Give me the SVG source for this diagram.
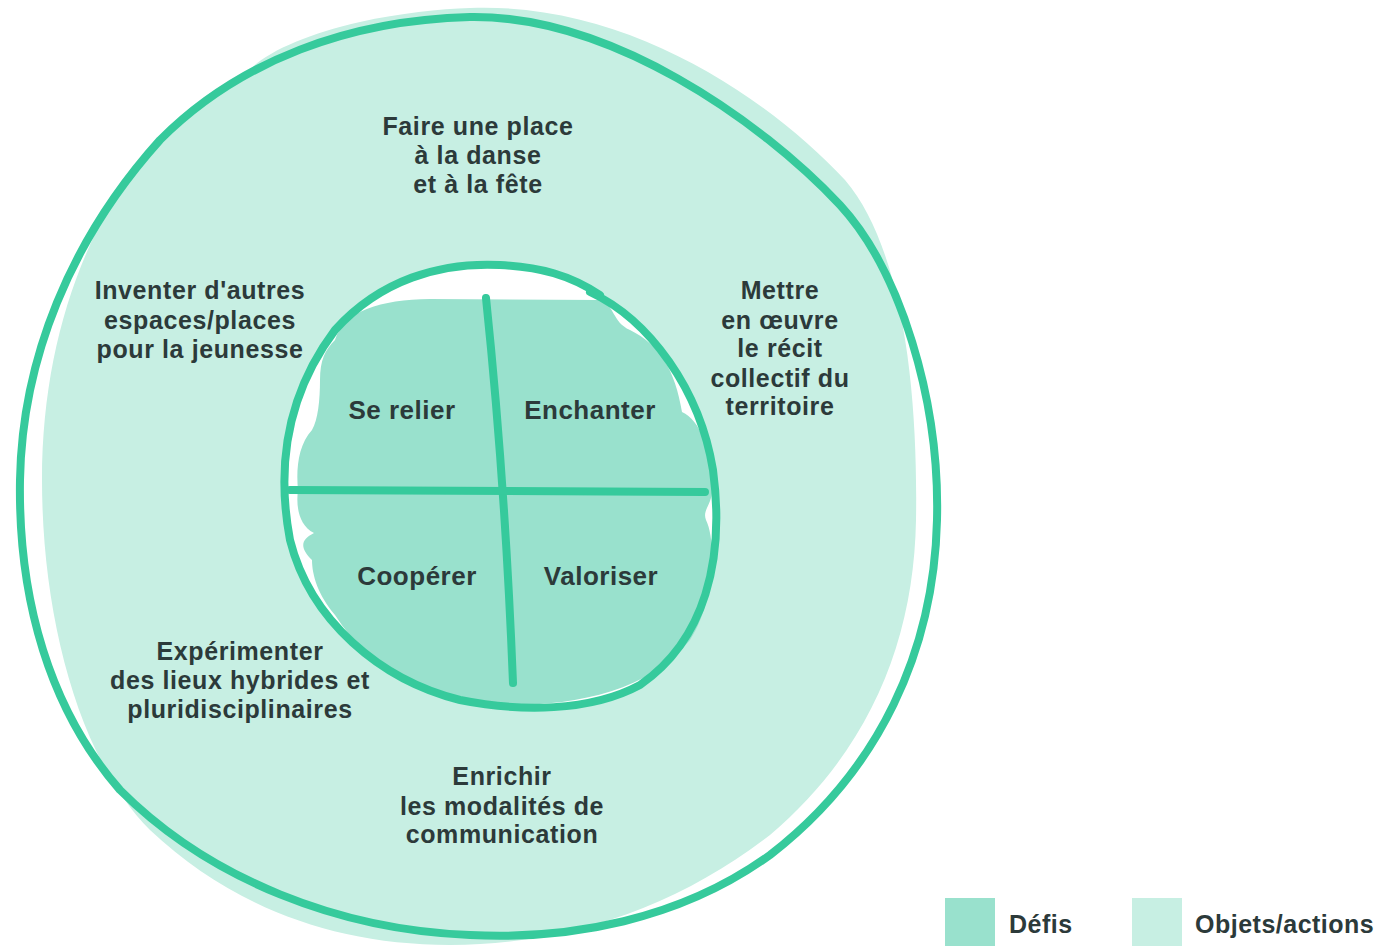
<svg xmlns="http://www.w3.org/2000/svg" width="1375" height="946" viewBox="0 0 1375 946">
<style>
.ln{fill:none;stroke:#36ca9c;stroke-width:8;stroke-linecap:round;stroke-linejoin:round}
.lbl{font-family:"Liberation Sans",Arial,sans-serif;font-weight:700;font-size:25px;letter-spacing:0.6px;fill:#2c3a3a;text-anchor:middle}
.in{font-size:26px;letter-spacing:0.5px}
.leg{font-family:"Liberation Sans",Arial,sans-serif;font-weight:700;font-size:25px;letter-spacing:0.5px;fill:#2c3a3a}
.light{fill:#c7efe3}
.dark{fill:#99e1cd}
</style>
<rect width="1375" height="946" fill="#ffffff"/>
<g id="outer-ring">
<path class="light" d="M 470,8 C 625,2 765,95 845,180 C 905,250 918,400 916,520 C 914,640 870,750 770,835 C 680,905 570,945 450,945 C 330,945 230,905 150,830 C 80,760 42,620 42,480 C 42,350 80,240 140,160 C 180,110 215,85 245,78 C 250,60 300,35 360,22 C 400,13 440,9 470,8 Z"/>
<path class="ln" d="M 470,17 C 610,15 760,120 840,205 C 900,270 940,400 937,520 C 934,650 880,770 770,855 C 680,920 570,940 470,935 C 340,930 210,880 120,790 C 50,710 18,600 20,480 C 22,360 70,240 160,140 C 240,60 350,20 470,17 Z"/>
</g>
<g id="inner-circle">
<path fill="#ffffff" d="M 590,292 C 650,320 700,390 713,470 C 725,560 705,640 640,685 C 590,712 520,712 460,700 C 380,680 310,620 290,540 C 275,460 290,390 335,330 C 380,280 440,262 500,265 C 540,267 570,275 600,295 Z"/>
<path class="dark" d="M 335,340 C 345,310 380,300 430,299 L 600,300 C 615,305 612,322 630,330 C 660,345 675,370 682,412 C 700,420 712,450 712,490 C 712,505 702,510 706,520 C 716,540 716,600 690,640 C 650,690 580,705 510,705 C 430,700 370,670 335,615 C 318,595 312,575 312,560 C 300,548 300,540 314,533 C 298,525 296,505 298,490 C 296,470 298,445 312,430 C 318,420 320,400 320,380 C 320,360 325,350 335,340 Z"/>
<path class="ln" d="M 590,292 C 650,320 700,390 713,470 C 725,560 705,640 640,685 C 590,712 520,712 460,700 C 380,680 310,620 290,540 C 275,460 290,390 335,330 C 380,280 440,262 500,265 C 540,267 570,275 600,295"/>
</g>
<g id="connectors">
<path class="ln" d="M 486,298 Q 505,480 513,683"/>
<path class="ln" d="M 290,490 L 705,492"/>
</g>
<g id="se-relier"><text class="lbl in" x="402" y="419">Se relier</text></g>
<g id="enchanter"><text class="lbl in" x="590" y="419">Enchanter</text></g>
<g id="cooperer"><text class="lbl in" x="417" y="585">Coopérer</text></g>
<g id="valoriser"><text class="lbl in" x="601" y="585">Valoriser</text></g>
<g id="faire-place">
<text class="lbl" x="478" y="135">Faire une place</text>
<text class="lbl" x="478" y="164">à la danse</text>
<text class="lbl" x="478" y="193">et à la fête</text>
</g>
<g id="inventer">
<text class="lbl" x="200" y="299">Inventer d'autres</text>
<text class="lbl" x="200" y="329">espaces/places</text>
<text class="lbl" x="200" y="358">pour la jeunesse</text>
</g>
<g id="mettre">
<text class="lbl" x="780" y="299">Mettre</text>
<text class="lbl" x="780" y="329">en œuvre</text>
<text class="lbl" x="780" y="357">le récit</text>
<text class="lbl" x="780" y="387">collectif du</text>
<text class="lbl" x="780" y="415">territoire</text>
</g>
<g id="experimenter">
<text class="lbl" x="240" y="660">Expérimenter</text>
<text class="lbl" x="240" y="689">des lieux hybrides et</text>
<text class="lbl" x="240" y="718">pluridisciplinaires</text>
</g>
<g id="enrichir">
<text class="lbl" x="502" y="785">Enrichir</text>
<text class="lbl" x="502" y="815">les modalités de</text>
<text class="lbl" x="502" y="843">communication</text>
</g>
<g id="legend">
<rect class="dark" x="945" y="898" width="50" height="48"/>
<text class="leg" x="1009" y="933">Défis</text>
<rect class="light" x="1132" y="898" width="50" height="48"/>
<text class="leg" x="1195" y="933">Objets/actions</text>
</g>
</svg>
